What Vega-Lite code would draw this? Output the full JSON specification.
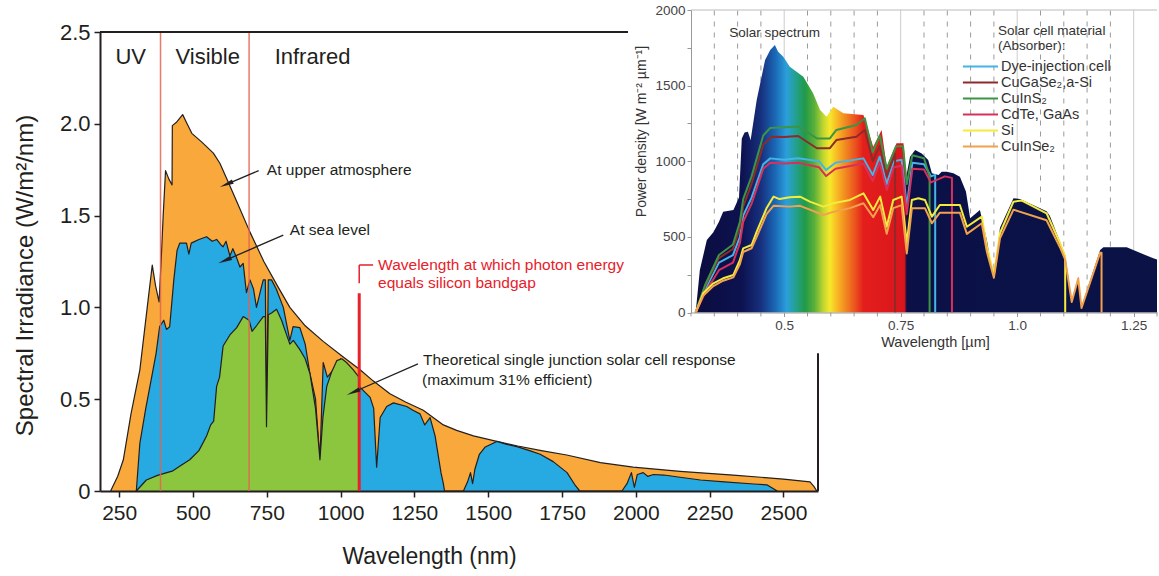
{
  "$schema": "https://vega.github.io/schema/vega-lite/v6.json",
  "width": 718,
  "height": 459,
  "autosize": {"type": "none"},
  "padding": {"left": 100, "top": 32, "right": 341, "bottom": 85},
  "background": "white",
  "config": {"view": {"stroke": null}, "font": "Liberation Sans"},
  "datasets": {
    "am0": [
      {"nm":221,"val":0},{"nm":245,"val":0.08},{"nm":264,"val":0.17},{"nm":290,"val":0.42},{"nm":320,"val":0.66},{"nm":345,"val":1.0},{"nm":362,"val":1.23},{"nm":373,"val":1.12},{"nm":385,"val":1.03},{"nm":392,"val":1.25},{"nm":399,"val":1.5},{"nm":407,"val":1.745},{"nm":418,"val":1.7},{"nm":429,"val":1.667},{"nm":430,"val":1.99},{"nm":445,"val":2.01},{"nm":465,"val":2.05},{"nm":480,"val":2.0},{"nm":496,"val":1.948},{"nm":530,"val":1.9},{"nm":569,"val":1.84},{"nm":591,"val":1.785},{"nm":620,"val":1.68},{"nm":650,"val":1.57},{"nm":693,"val":1.41},{"nm":740,"val":1.25},{"nm":785,"val":1.12},{"nm":828,"val":1.0},{"nm":880,"val":0.9},{"nm":941,"val":0.815},{"nm":1009,"val":0.73},{"nm":1066,"val":0.66},{"nm":1110,"val":0.6},{"nm":1167,"val":0.53},{"nm":1220,"val":0.485},{"nm":1280,"val":0.44},{"nm":1348,"val":0.36},{"nm":1393,"val":0.33},{"nm":1450,"val":0.3},{"nm":1529,"val":0.27},{"nm":1600,"val":0.245},{"nm":1680,"val":0.22},{"nm":1766,"val":0.196},{"nm":1880,"val":0.155},{"nm":1991,"val":0.13},{"nm":2150,"val":0.107},{"nm":2330,"val":0.087},{"nm":2500,"val":0.065},{"nm":2590,"val":0.05},{"nm":2603,"val":0.025},{"nm":2613,"val":0}
    ],
    "am15": [
      {"nm":308,"val":0},{"nm":320,"val":0.26},{"nm":340,"val":0.45},{"nm":360,"val":0.62},{"nm":375,"val":0.75},{"nm":387,"val":0.895},{"nm":401,"val":0.93},{"nm":410,"val":0.88},{"nm":421,"val":0.895},{"nm":435,"val":1.15},{"nm":446,"val":1.31},{"nm":455,"val":1.35},{"nm":478,"val":1.35},{"nm":486,"val":1.29},{"nm":494,"val":1.35},{"nm":520,"val":1.37},{"nm":546,"val":1.385},{"nm":565,"val":1.36},{"nm":580,"val":1.37},{"nm":595,"val":1.34},{"nm":602,"val":1.33},{"nm":612,"val":1.36},{"nm":625,"val":1.28},{"nm":635,"val":1.32},{"nm":648,"val":1.27},{"nm":659,"val":1.22},{"nm":670,"val":1.24},{"nm":681,"val":1.08},{"nm":693,"val":1.15},{"nm":705,"val":1.1},{"nm":715,"val":1.0},{"nm":730,"val":1.1},{"nm":738,"val":1.15},{"nm":745,"val":1.15},{"nm":749,"val":0.35},{"nm":755,"val":1.15},{"nm":766,"val":1.15},{"nm":782,"val":1.1},{"nm":806,"val":1.0},{"nm":828,"val":0.82},{"nm":839,"val":0.895},{"nm":862,"val":0.89},{"nm":880,"val":0.8},{"nm":896,"val":0.64},{"nm":915,"val":0.5},{"nm":930,"val":0.17},{"nm":941,"val":0.7},{"nm":955,"val":0.62},{"nm":975,"val":0.66},{"nm":1000,"val":0.72},{"nm":1030,"val":0.66},{"nm":1063,"val":0.57},{"nm":1100,"val":0.51},{"nm":1112,"val":0.45},{"nm":1122,"val":0.13},{"nm":1134,"val":0.4},{"nm":1156,"val":0.46},{"nm":1179,"val":0.48},{"nm":1224,"val":0.46},{"nm":1245,"val":0.44},{"nm":1269,"val":0.42},{"nm":1285,"val":0.36},{"nm":1303,"val":0.4},{"nm":1320,"val":0.3},{"nm":1340,"val":0.1},{"nm":1348,"val":0.04},{"nm":1352,"val":0},{"nm":1416,"val":0},{"nm":1430,"val":0.05},{"nm":1440,"val":0.1},{"nm":1447,"val":0.04},{"nm":1455,"val":0.12},{"nm":1470,"val":0.2},{"nm":1490,"val":0.24},{"nm":1529,"val":0.27},{"nm":1560,"val":0.255},{"nm":1600,"val":0.24},{"nm":1640,"val":0.22},{"nm":1676,"val":0.2},{"nm":1720,"val":0.16},{"nm":1767,"val":0.1},{"nm":1795,"val":0.03},{"nm":1810,"val":0},{"nm":1953,"val":0},{"nm":1970,"val":0.04},{"nm":1985,"val":0.1},{"nm":1995,"val":0.02},{"nm":2005,"val":0.09},{"nm":2025,"val":0.1},{"nm":2040,"val":0.08},{"nm":2060,"val":0.09},{"nm":2095,"val":0.087},{"nm":2150,"val":0.075},{"nm":2219,"val":0.06},{"nm":2300,"val":0.05},{"nm":2400,"val":0.038},{"nm":2445,"val":0.033},{"nm":2479,"val":0}
    ],
    "theo": [
      {"nm":308,"val":0},{"nm":342,"val":0.06},{"nm":380,"val":0.085},{"nm":400,"val":0.095},{"nm":432,"val":0.11},{"nm":460,"val":0.14},{"nm":489,"val":0.17},{"nm":520,"val":0.22},{"nm":546,"val":0.3},{"nm":560,"val":0.36},{"nm":570,"val":0.38},{"nm":580,"val":0.57},{"nm":590,"val":0.62},{"nm":602,"val":0.79},{"nm":625,"val":0.85},{"nm":648,"val":0.89},{"nm":670,"val":0.95},{"nm":690,"val":0.93},{"nm":700,"val":0.87},{"nm":715,"val":0.9},{"nm":738,"val":0.95},{"nm":745,"val":0.95},{"nm":749,"val":0.35},{"nm":755,"val":0.96},{"nm":766,"val":0.97},{"nm":783,"val":0.99},{"nm":800,"val":0.93},{"nm":815,"val":0.86},{"nm":828,"val":0.8},{"nm":840,"val":0.82},{"nm":862,"val":0.77},{"nm":880,"val":0.72},{"nm":896,"val":0.64},{"nm":915,"val":0.45},{"nm":930,"val":0.17},{"nm":940,"val":0.4},{"nm":953,"val":0.57},{"nm":970,"val":0.65},{"nm":987,"val":0.71},{"nm":1004,"val":0.72},{"nm":1020,"val":0.7},{"nm":1043,"val":0.66},{"nm":1062,"val":0.62},{"nm":1063,"val":0}
    ],
    "bands": [{"nm":390},{"nm":690}],
    "si": [{"nm":1063,"lo":0,"hi":1.077}],
    "bracketV": [{"nm":1063,"lo":1.131,"hi":1.231}],
    "bracketH": [{"nm":1063,"nm2":1110,"val":1.231}],
    "regions": [{"label":"UV","nm":289,"val":2.365},{"label":"Visible","nm":550,"val":2.365},{"label":"Infrared","nm":905,"val":2.365}],
    "notes": [{"label":"At upper atmosphere","nm":750,"val":1.748},{"label":"At sea level","nm":828,"val":1.422},{"label":"Theoretical single junction solar cell response","nm":1279,"val":0.711},{"label":"(maximum 31% efficient)","nm":1276,"val":0.607}],
    "redNotes": [{"label":"Wavelength at which photon energy","nm":1127,"val":1.231},{"label":"equals silicon bandgap","nm":1127,"val":1.131}],
    "arrows": [{"nm":722.5,"val":1.745,"nm2":613,"val2":1.67},{"nm":805.9,"val":1.394,"nm2":607.4,"val2":1.255},{"nm":1262,"val":0.692,"nm2":1042.3,"val2":0.538}],
    "heads": [{"nm":613,"val":1.67},{"nm":607.4,"val":1.255},{"nm":1042.3,"val":0.538}],
    "bg": [{"l0":0.1648,"l1":1.32,"v0":-270,"v1":2130}],
    "gridMajor": [{"l":0.5},{"l":0.75},{"l":1.0},{"l":1.25}],
    "gridMinor": [{"l":0.35},{"l":0.4},{"l":0.45},{"l":0.55},{"l":0.6},{"l":0.65},{"l":0.7},{"l":0.8},{"l":0.85},{"l":0.9},{"l":0.95},{"l":1.05},{"l":1.1},{"l":1.15},{"l":1.2}],
    "ticksMinor": [{"l":0.3},{"l":0.35},{"l":0.4},{"l":0.45},{"l":0.55},{"l":0.6},{"l":0.65},{"l":0.7},{"l":0.8},{"l":0.85},{"l":0.9},{"l":0.95},{"l":1.05},{"l":1.1},{"l":1.15},{"l":1.2},{"l":1.3}],
    "spec": [
      {"l":0.3,"v":0},{"l":0.31,"v":0},{"l":0.319,"v":281},{"l":0.334,"v":479},{"l":0.348,"v":530},{"l":0.36,"v":600},{"l":0.369,"v":666},{"l":0.391,"v":678},{"l":0.403,"v":760},{"l":0.409,"v":1150},{"l":0.415,"v":1190},{"l":0.422,"v":1195},{"l":0.428,"v":1140},{"l":0.441,"v":1405},{"l":0.459,"v":1669},{"l":0.47,"v":1736},{"l":0.48,"v":1769},{"l":0.487,"v":1724},{"l":0.498,"v":1691},{"l":0.512,"v":1625},{"l":0.541,"v":1559},{"l":0.562,"v":1449},{"l":0.577,"v":1339},{"l":0.591,"v":1295},{"l":0.605,"v":1361},{"l":0.627,"v":1317},{"l":0.67,"v":1306},{"l":0.691,"v":1096},{"l":0.709,"v":1207},{"l":0.72,"v":964},{"l":0.741,"v":1119},{"l":0.756,"v":1119},{"l":0.762,"v":900},{"l":0.77,"v":1030},{"l":0.781,"v":1074},{"l":0.795,"v":1052},{"l":0.809,"v":1008},{"l":0.817,"v":920},{"l":0.831,"v":909},{"l":0.838,"v":931},{"l":0.849,"v":931},{"l":0.863,"v":920},{"l":0.877,"v":898},{"l":0.89,"v":800},{"l":0.899,"v":623},{"l":0.92,"v":678},{"l":0.935,"v":479},{"l":0.945,"v":300},{"l":0.95,"v":220},{"l":0.963,"v":560},{"l":0.992,"v":755},{"l":1.006,"v":750},{"l":1.063,"v":670},{"l":1.07,"v":640},{"l":1.103,"v":380},{"l":1.117,"v":80},{"l":1.131,"v":237},{"l":1.138,"v":40},{"l":1.178,"v":413},{"l":1.185,"v":431},{"l":1.235,"v":431},{"l":1.292,"v":358},{"l":1.3,"v":350}
    ],
    "cells": [
      {"m":"Dye-injection cell","l":0.31,"v":0},{"m":"Dye-injection cell","l":0.33,"v":150},{"m":"Dye-injection cell","l":0.36,"v":330},{"m":"Dye-injection cell","l":0.39,"v":380},{"m":"Dye-injection cell","l":0.405,"v":500},{"m":"Dye-injection cell","l":0.412,"v":640},{"m":"Dye-injection cell","l":0.43,"v":760},{"m":"Dye-injection cell","l":0.455,"v":980},{"m":"Dye-injection cell","l":0.47,"v":1019},{"m":"Dye-injection cell","l":0.5,"v":1010},{"m":"Dye-injection cell","l":0.53,"v":1020},{"m":"Dye-injection cell","l":0.575,"v":1000},{"m":"Dye-injection cell","l":0.59,"v":942},{"m":"Dye-injection cell","l":0.61,"v":990},{"m":"Dye-injection cell","l":0.67,"v":1019},{"m":"Dye-injection cell","l":0.69,"v":909},{"m":"Dye-injection cell","l":0.705,"v":1030},{"m":"Dye-injection cell","l":0.72,"v":850},{"m":"Dye-injection cell","l":0.735,"v":1000},{"m":"Dye-injection cell","l":0.752,"v":1010},{"m":"Dye-injection cell","l":0.763,"v":700},{"m":"Dye-injection cell","l":0.775,"v":990},{"m":"Dye-injection cell","l":0.8,"v":980},{"m":"Dye-injection cell","l":0.815,"v":900},{"m":"Dye-injection cell","l":0.824,"v":910},{"m":"Dye-injection cell","l":0.824,"v":0},
      {"m":"CuGaSe₂,a-Si","l":0.31,"v":0},{"m":"CuGaSe₂,a-Si","l":0.33,"v":170},{"m":"CuGaSe₂,a-Si","l":0.36,"v":360},{"m":"CuGaSe₂,a-Si","l":0.39,"v":420},{"m":"CuGaSe₂,a-Si","l":0.405,"v":560},{"m":"CuGaSe₂,a-Si","l":0.412,"v":700},{"m":"CuGaSe₂,a-Si","l":0.43,"v":850},{"m":"CuGaSe₂,a-Si","l":0.455,"v":1110},{"m":"CuGaSe₂,a-Si","l":0.473,"v":1162},{"m":"CuGaSe₂,a-Si","l":0.5,"v":1160},{"m":"CuGaSe₂,a-Si","l":0.53,"v":1167},{"m":"CuGaSe₂,a-Si","l":0.57,"v":1086},{"m":"CuGaSe₂,a-Si","l":0.598,"v":1086},{"m":"CuGaSe₂,a-Si","l":0.612,"v":1140},{"m":"CuGaSe₂,a-Si","l":0.655,"v":1162},{"m":"CuGaSe₂,a-Si","l":0.673,"v":1207},{"m":"CuGaSe₂,a-Si","l":0.69,"v":1000},{"m":"CuGaSe₂,a-Si","l":0.705,"v":1100},{"m":"CuGaSe₂,a-Si","l":0.72,"v":900},{"m":"CuGaSe₂,a-Si","l":0.738,"v":1050},{"m":"CuGaSe₂,a-Si","l":0.738,"v":0},
      {"m":"CuInS₂","l":0.31,"v":0},{"m":"CuInS₂","l":0.33,"v":180},{"m":"CuInS₂","l":0.36,"v":380},{"m":"CuInS₂","l":0.39,"v":450},{"m":"CuInS₂","l":0.405,"v":600},{"m":"CuInS₂","l":0.412,"v":750},{"m":"CuInS₂","l":0.43,"v":900},{"m":"CuInS₂","l":0.455,"v":1170},{"m":"CuInS₂","l":0.47,"v":1220},{"m":"CuInS₂","l":0.5,"v":1225},{"m":"CuInS₂","l":0.53,"v":1230},{"m":"CuInS₂","l":0.57,"v":1151},{"m":"CuInS₂","l":0.598,"v":1151},{"m":"CuInS₂","l":0.612,"v":1207},{"m":"CuInS₂","l":0.655,"v":1240},{"m":"CuInS₂","l":0.673,"v":1284},{"m":"CuInS₂","l":0.69,"v":1060},{"m":"CuInS₂","l":0.705,"v":1170},{"m":"CuInS₂","l":0.72,"v":950},{"m":"CuInS₂","l":0.74,"v":1100},{"m":"CuInS₂","l":0.755,"v":1100},{"m":"CuInS₂","l":0.763,"v":850},{"m":"CuInS₂","l":0.775,"v":1040},{"m":"CuInS₂","l":0.8,"v":1020},{"m":"CuInS₂","l":0.812,"v":900},{"m":"CuInS₂","l":0.812,"v":0},
      {"m":"CdTe, GaAs","l":0.31,"v":0},{"m":"CdTe, GaAs","l":0.33,"v":130},{"m":"CdTe, GaAs","l":0.36,"v":280},{"m":"CdTe, GaAs","l":0.39,"v":330},{"m":"CdTe, GaAs","l":0.405,"v":460},{"m":"CdTe, GaAs","l":0.412,"v":600},{"m":"CdTe, GaAs","l":0.43,"v":720},{"m":"CdTe, GaAs","l":0.455,"v":950},{"m":"CdTe, GaAs","l":0.47,"v":990},{"m":"CdTe, GaAs","l":0.5,"v":985},{"m":"CdTe, GaAs","l":0.53,"v":990},{"m":"CdTe, GaAs","l":0.575,"v":960},{"m":"CdTe, GaAs","l":0.59,"v":902},{"m":"CdTe, GaAs","l":0.61,"v":950},{"m":"CdTe, GaAs","l":0.67,"v":985},{"m":"CdTe, GaAs","l":0.69,"v":870},{"m":"CdTe, GaAs","l":0.705,"v":990},{"m":"CdTe, GaAs","l":0.72,"v":810},{"m":"CdTe, GaAs","l":0.735,"v":960},{"m":"CdTe, GaAs","l":0.752,"v":970},{"m":"CdTe, GaAs","l":0.763,"v":650},{"m":"CdTe, GaAs","l":0.775,"v":950},{"m":"CdTe, GaAs","l":0.8,"v":945},{"m":"CdTe, GaAs","l":0.815,"v":860},{"m":"CdTe, GaAs","l":0.83,"v":880},{"m":"CdTe, GaAs","l":0.845,"v":900},{"m":"CdTe, GaAs","l":0.86,"v":890},{"m":"CdTe, GaAs","l":0.86,"v":0},
      {"m":"Si","l":0.31,"v":0},{"m":"Si","l":0.326,"v":127},{"m":"Si","l":0.348,"v":193},{"m":"Si","l":0.369,"v":226},{"m":"Si","l":0.391,"v":248},{"m":"Si","l":0.405,"v":347},{"m":"Si","l":0.412,"v":424},{"m":"Si","l":0.43,"v":446},{"m":"Si","l":0.441,"v":534},{"m":"Si","l":0.462,"v":689},{"m":"Si","l":0.477,"v":766},{"m":"Si","l":0.49,"v":750},{"m":"Si","l":0.512,"v":762},{"m":"Si","l":0.534,"v":766},{"m":"Si","l":0.555,"v":733},{"m":"Si","l":0.584,"v":700},{"m":"Si","l":0.605,"v":722},{"m":"Si","l":0.641,"v":744},{"m":"Si","l":0.67,"v":788},{"m":"Si","l":0.691,"v":678},{"m":"Si","l":0.706,"v":766},{"m":"Si","l":0.72,"v":567},{"m":"Si","l":0.734,"v":744},{"m":"Si","l":0.752,"v":766},{"m":"Si","l":0.763,"v":458},{"m":"Si","l":0.774,"v":744},{"m":"Si","l":0.788,"v":755},{"m":"Si","l":0.802,"v":744},{"m":"Si","l":0.817,"v":634},{"m":"Si","l":0.834,"v":711},{"m":"Si","l":0.877,"v":711},{"m":"Si","l":0.892,"v":567},{"m":"Si","l":0.924,"v":634},{"m":"Si","l":0.935,"v":435},{"m":"Si","l":0.95,"v":250},{"m":"Si","l":0.963,"v":524},{"m":"Si","l":0.992,"v":733},{"m":"Si","l":1.01,"v":740},{"m":"Si","l":1.063,"v":656},{"m":"Si","l":1.092,"v":458},{"m":"Si","l":1.103,"v":369},{"m":"Si","l":1.103,"v":0},
      {"m":"CuInSe₂","l":0.31,"v":0},{"m":"CuInSe₂","l":0.326,"v":110},{"m":"CuInSe₂","l":0.348,"v":175},{"m":"CuInSe₂","l":0.369,"v":210},{"m":"CuInSe₂","l":0.391,"v":232},{"m":"CuInSe₂","l":0.405,"v":320},{"m":"CuInSe₂","l":0.412,"v":400},{"m":"CuInSe₂","l":0.43,"v":425},{"m":"CuInSe₂","l":0.441,"v":500},{"m":"CuInSe₂","l":0.462,"v":650},{"m":"CuInSe₂","l":0.477,"v":705},{"m":"CuInSe₂","l":0.512,"v":700},{"m":"CuInSe₂","l":0.534,"v":705},{"m":"CuInSe₂","l":0.555,"v":680},{"m":"CuInSe₂","l":0.584,"v":645},{"m":"CuInSe₂","l":0.605,"v":665},{"m":"CuInSe₂","l":0.641,"v":690},{"m":"CuInSe₂","l":0.67,"v":722},{"m":"CuInSe₂","l":0.691,"v":630},{"m":"CuInSe₂","l":0.706,"v":710},{"m":"CuInSe₂","l":0.72,"v":520},{"m":"CuInSe₂","l":0.734,"v":690},{"m":"CuInSe₂","l":0.752,"v":710},{"m":"CuInSe₂","l":0.763,"v":390},{"m":"CuInSe₂","l":0.774,"v":690},{"m":"CuInSe₂","l":0.802,"v":690},{"m":"CuInSe₂","l":0.817,"v":590},{"m":"CuInSe₂","l":0.834,"v":660},{"m":"CuInSe₂","l":0.877,"v":660},{"m":"CuInSe₂","l":0.892,"v":520},{"m":"CuInSe₂","l":0.924,"v":590},{"m":"CuInSe₂","l":0.935,"v":400},{"m":"CuInSe₂","l":0.95,"v":230},{"m":"CuInSe₂","l":0.963,"v":490},{"m":"CuInSe₂","l":0.992,"v":680},{"m":"CuInSe₂","l":1.063,"v":610},{"m":"CuInSe₂","l":1.092,"v":430},{"m":"CuInSe₂","l":1.103,"v":350},{"m":"CuInSe₂","l":1.117,"v":70},{"m":"CuInSe₂","l":1.131,"v":225},{"m":"CuInSe₂","l":1.138,"v":30},{"m":"CuInSe₂","l":1.178,"v":395},{"m":"CuInSe₂","l":1.181,"v":395},{"m":"CuInSe₂","l":1.181,"v":0}
    ],
    "insetText": [{"label":"Solar spectrum","l":0.382,"v":1846}],
    "legendTitle": [{"label":"Solar cell material","l":0.959,"v":1858},{"label":"(Absorber):","l":0.959,"v":1762}]
  },
  "layer": [
    {
      "layer": [
        {
          "data": {"name": "am0"},
          "mark": {"type": "area", "fill": "#f9a93b", "stroke": "#231f20", "strokeWidth": 1.2, "strokeJoin": "round"},
          "encoding": {
            "x": {"field": "nm", "type": "quantitative", "scale": {"domain": [185, 2617], "nice": false, "zero": false},
              "axis": {"orient": "bottom", "title": "Wavelength (nm)", "values": [250,500,750,1000,1250,1500,1750,2000,2250,2500], "format": "d", "grid": false, "labelFontSize": 21, "labelColor": "#231f20", "labelPadding": 5, "labelFlush": false, "labelOverlap": false, "tickSize": 6, "tickWidth": 1.5, "tickColor": "#231f20", "domainColor": "#231f20", "domainWidth": 2, "titleFontSize": 23, "titleFontWeight": "normal", "titleColor": "#231f20", "titleX": 329, "titleY": 65, "titleBaseline": "middle"}},
            "y": {"field": "val", "type": "quantitative", "scale": {"domain": [0, 2.5], "nice": false},
              "axis": {"orient": "left", "title": "Spectral Irradiance (W/m²/nm)", "values": [0,0.5,1,1.5,2,2.5], "labelExpr": "datum.value === 0 ? '0' : format(datum.value, '.1f')", "grid": false, "labelFontSize": 22, "labelColor": "#231f20", "labelPadding": 4, "labelFlush": false, "labelOverlap": false, "tickSize": 6, "tickWidth": 1.5, "tickColor": "#231f20", "domainColor": "#231f20", "domainWidth": 2, "titleFontSize": 24, "titleFontWeight": "normal", "titleColor": "#231f20", "titleX": -75, "titleY": 243, "titleBaseline": "middle"}}
          }
        },
        {
          "data": {"name": "am15"},
          "mark": {"type": "area", "fill": "#27a9e1", "stroke": "#231f20", "strokeWidth": 1.2, "strokeJoin": "round"},
          "encoding": {"x": {"field": "nm", "type": "quantitative"}, "y": {"field": "val", "type": "quantitative"}}
        },
        {
          "data": {"name": "theo"},
          "mark": {"type": "area", "fill": "#8cc63f", "stroke": "#231f20", "strokeWidth": 1.2, "strokeJoin": "round"},
          "encoding": {"x": {"field": "nm", "type": "quantitative"}, "y": {"field": "val", "type": "quantitative"}}
        },
        {
          "data": {"name": "bands"},
          "mark": {"type": "rule", "stroke": "#e5634f", "strokeWidth": 1.5, "opacity": 0.85},
          "encoding": {"x": {"field": "nm", "type": "quantitative"}}
        },
        {
          "data": {"name": "si"},
          "mark": {"type": "rule", "stroke": "#e8202a", "strokeWidth": 3},
          "encoding": {"x": {"field": "nm", "type": "quantitative"}, "y": {"field": "lo", "type": "quantitative"}, "y2": {"field": "hi"}}
        },
        {
          "data": {"name": "bracketV"},
          "mark": {"type": "rule", "stroke": "#e8202a", "strokeWidth": 1.5},
          "encoding": {"x": {"field": "nm", "type": "quantitative"}, "y": {"field": "lo", "type": "quantitative"}, "y2": {"field": "hi"}}
        },
        {
          "data": {"name": "bracketH"},
          "mark": {"type": "rule", "stroke": "#e8202a", "strokeWidth": 1.5},
          "encoding": {"x": {"field": "nm", "type": "quantitative"}, "x2": {"field": "nm2"}, "y": {"field": "val", "type": "quantitative"}}
        },
        {
          "data": {"values": [{}]},
          "mark": {"type": "rule", "stroke": "#231f20", "strokeWidth": 2},
          "encoding": {"y": {"datum": 2.5}}
        },
        {
          "data": {"values": [{}]},
          "mark": {"type": "rule", "stroke": "#231f20", "strokeWidth": 2},
          "encoding": {"x": {"datum": 2617}}
        },
        {
          "data": {"name": "regions"},
          "mark": {"type": "text", "fontSize": 22, "color": "#231f20", "align": "center", "baseline": "middle"},
          "encoding": {"x": {"field": "nm", "type": "quantitative"}, "y": {"field": "val", "type": "quantitative"}, "text": {"field": "label"}}
        },
        {
          "data": {"name": "notes"},
          "mark": {"type": "text", "fontSize": 15.5, "color": "#231f20", "align": "left", "baseline": "middle"},
          "encoding": {"x": {"field": "nm", "type": "quantitative"}, "y": {"field": "val", "type": "quantitative"}, "text": {"field": "label"}}
        },
        {
          "data": {"name": "redNotes"},
          "mark": {"type": "text", "fontSize": 15.5, "color": "#e8202a", "align": "left", "baseline": "middle"},
          "encoding": {"x": {"field": "nm", "type": "quantitative"}, "y": {"field": "val", "type": "quantitative"}, "text": {"field": "label"}}
        },
        {
          "data": {"name": "arrows"},
          "mark": {"type": "rule", "stroke": "#231f20", "strokeWidth": 1.3},
          "encoding": {"x": {"field": "nm", "type": "quantitative"}, "y": {"field": "val", "type": "quantitative"}, "x2": {"field": "nm2"}, "y2": {"field": "val2"}}
        },
        {
          "data": {"name": "heads"},
          "mark": {"type": "point", "shape": "M0,-1L0.32,1L-0.32,1Z", "size": 196, "angle": 247, "filled": true, "color": "#231f20", "opacity": 1, "strokeWidth": 0},
          "encoding": {"x": {"field": "nm", "type": "quantitative"}, "y": {"field": "val", "type": "quantitative"}}
        }
      ]
    },
    {
      "layer": [
        {
          "data": {"name": "bg"},
          "mark": {"type": "rect", "fill": "white"},
          "encoding": {
            "x": {"field": "l0", "type": "quantitative", "scale": {"domain": [0.3, 1.3], "nice": false, "zero": false, "range": [591, 1057]},
              "axis": {"orient": "bottom", "offset": -178.5, "zindex": 1, "values": [0.5, 0.75, 1, 1.25], "labelExpr": "datum.value === 1 ? '1.0' : datum.value === 0.5 ? '0.5' : datum.value === 0.75 ? '0.75' : '1.25'", "grid": false, "domainColor": "#999999", "tickColor": "#999999", "tickSize": 4, "labelFontSize": 13.5, "labelColor": "#444444", "labelPadding": 2, "labelFlush": false, "labelOverlap": false, "labelDx": 5, "title": "Wavelength [µm]", "titleFontSize": 14.5, "titleFontWeight": "normal", "titleColor": "#333333", "titleX": 835, "titleY": 29.5, "titleBaseline": "middle"}},
            "x2": {"field": "l1"},
            "y": {"field": "v0", "type": "quantitative", "scale": {"domain": [0, 2000], "nice": false, "zero": false, "range": [280.5, -22]},
              "axis": {"orient": "left", "offset": -591, "zindex": 1, "values": [0,250,500,750,1000,1250,1500,1750,2000], "format": "d", "labelExpr": "datum.value % 500 === 0 ? datum.label : ''", "grid": false, "domainColor": "#999999", "tickColor": "#999999", "tickSize": 4, "labelFontSize": 13.5, "labelColor": "#444444", "labelPadding": 2, "labelFlush": false, "labelOverlap": false, "title": "Power density [W m⁻² µm⁻¹]", "titleFontSize": 14, "titleFontWeight": "normal", "titleColor": "#333333", "titleX": -50, "titleY": 99, "titleBaseline": "middle"}},
            "y2": {"field": "v1"}
          }
        },
        {
          "data": {"name": "ticksMinor"},
          "mark": {"type": "rule", "stroke": "#999999", "strokeWidth": 1},
          "encoding": {"x": {"field": "l", "type": "quantitative"}, "y": {"datum": 0}, "y2": {"datum": -26}}
        },
        {
          "data": {"name": "gridMinor"},
          "mark": {"type": "rule", "stroke": "#9a9a9a", "strokeWidth": 1, "strokeDash": [5, 6]},
          "encoding": {"x": {"field": "l", "type": "quantitative"}, "y": {"datum": 0}, "y2": {"datum": 2000}}
        },
        {
          "data": {"name": "gridMajor"},
          "mark": {"type": "rule", "stroke": "#cccccc", "strokeWidth": 1},
          "encoding": {"x": {"field": "l", "type": "quantitative"}, "y": {"datum": 0}, "y2": {"datum": 2000}}
        },
        {
          "data": {"values": [{}]},
          "mark": {"type": "rule", "stroke": "#bbbbbb", "strokeWidth": 1},
          "encoding": {"x": {"datum": 0.3}, "x2": {"datum": 1.3}, "y": {"datum": 2000}}
        },
        {
          "data": {"name": "spec"},
          "mark": {"type": "area", "fill": {"gradient": "linear", "x1": 0, "y1": 0, "x2": 1, "y2": 0, "stops": [
            {"offset": 0, "color": "#0b0c3c"},
            {"offset": 0.11, "color": "#0d1250"},
            {"offset": 0.15, "color": "#17307e"},
            {"offset": 0.18, "color": "#1a66b4"},
            {"offset": 0.205, "color": "#2b9fdc"},
            {"offset": 0.225, "color": "#23a08f"},
            {"offset": 0.245, "color": "#229a48"},
            {"offset": 0.265, "color": "#5bb03a"},
            {"offset": 0.285, "color": "#c6d830"},
            {"offset": 0.298, "color": "#f6e82a"},
            {"offset": 0.315, "color": "#f8b424"},
            {"offset": 0.335, "color": "#f08020"},
            {"offset": 0.355, "color": "#ea4a1e"},
            {"offset": 0.37, "color": "#e41e1c"},
            {"offset": 0.458, "color": "#d8161c"},
            {"offset": 0.463, "color": "#0b1146"},
            {"offset": 1, "color": "#0a1246"}
          ]}},
          "encoding": {"x": {"field": "l", "type": "quantitative"}, "y": {"field": "v", "type": "quantitative"}}
        },
        {
          "data": {"name": "cells"},
          "mark": {"type": "line", "strokeWidth": 2, "strokeJoin": "round"},
          "encoding": {
            "x": {"field": "l", "type": "quantitative"},
            "y": {"field": "v", "type": "quantitative"},
            "order": {"value": null},
            "stroke": {"field": "m", "type": "nominal",
              "scale": {"domain": ["Dye-injection cell", "CuGaSe₂,a-Si", "CuInS₂", "CdTe, GaAs", "Si", "CuInSe₂"], "range": ["#45b4e6", "#8e2a2a", "#3c9444", "#d8305a", "#f4ec3c", "#f2a24e"]},
              "legend": {"orient": "none", "legendX": 884, "legendY": 27, "title": null, "direction": "vertical", "symbolType": "M-4.4,0H1", "symbolSize": 169, "symbolStrokeWidth": 2, "labelFontSize": 14.5, "labelColor": "#333333", "rowPadding": 1, "labelOffset": 2, "padding": 0, "offset": 0}}
          }
        },
        {
          "data": {"name": "insetText"},
          "mark": {"type": "text", "fontSize": 13.5, "color": "#333333", "align": "left", "baseline": "middle"},
          "encoding": {"x": {"field": "l", "type": "quantitative"}, "y": {"field": "v", "type": "quantitative"}, "text": {"field": "label"}}
        },
        {
          "data": {"name": "legendTitle"},
          "mark": {"type": "text", "fontSize": 13.5, "color": "#333333", "align": "left", "baseline": "middle"},
          "encoding": {"x": {"field": "l", "type": "quantitative"}, "y": {"field": "v", "type": "quantitative"}, "text": {"field": "label"}}
        }
      ]
    }
  ],
  "resolve": {"scale": {"x": "independent", "y": "independent"}, "axis": {"x": "independent", "y": "independent"}}
}
